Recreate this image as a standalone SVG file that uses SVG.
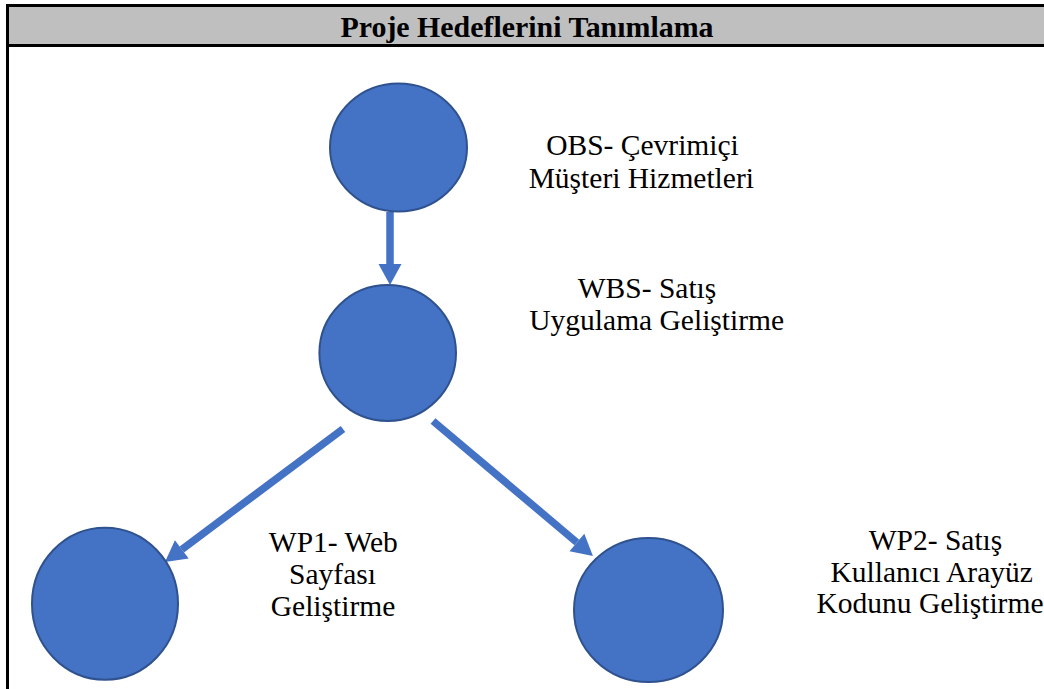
<svg xmlns="http://www.w3.org/2000/svg" width="1044" height="689" viewBox="0 0 1044 689">
  <style>
    .node { fill: #4472C4; stroke: #2F528F; stroke-width: 2; }
    .lbl { font-family: 'Liberation Serif', 'DejaVu Serif', serif; font-size: 29.5px; fill: #000; text-anchor: middle; }
    .title { font-family: 'Liberation Serif', 'DejaVu Serif', serif; font-size: 29.9px; font-weight: bold; fill: #000; text-anchor: middle; }
    .conn { stroke: #4472C4; stroke-width: 7.5; fill: none; marker-end: url(#head); }
  </style>
  <defs>
    <marker id="head" markerUnits="userSpaceOnUse" markerWidth="22" markerHeight="24" refX="0" refY="11.5" orient="auto" overflow="visible">
      <path d="M0,0 L21,11.5 L0,23 z" fill="#4472C4"/>
    </marker>
  </defs>
  <rect width="1044" height="689" fill="#ffffff"/>

  <g id="frame">
    <rect x="7.5" y="5.5" width="1100" height="40" fill="#BFBFBF" stroke="#000" stroke-width="3"/>
    <line x1="7.5" y1="4" x2="7.5" y2="689" stroke="#000" stroke-width="3"/>
    <text class="title" x="527" y="37" font-family="Liberation Serif, serif">Proje Hedeflerini Tanımlama</text>
  </g>

  <g id="connectors">
    <line class="conn" x1="390" y1="212" x2="390" y2="264"/>
    <line class="conn" x1="343" y1="429" x2="181.8" y2="549.4"/>
    <line class="conn" x1="433" y1="421" x2="576.9" y2="542.5"/>
  </g>

  <g id="obs">
    <ellipse class="node" cx="398.5" cy="147.5" rx="68.5" ry="64"/>
    <text class="lbl" x="642.5" y="155">OBS- Çevrimiçi</text>
    <text class="lbl" x="641.3" y="188.3">Müşteri Hizmetleri</text>
  </g>

  <g id="wbs">
    <ellipse class="node" cx="387.7" cy="353" rx="68.3" ry="68"/>
    <text class="lbl" x="647" y="298.3">WBS- Satış</text>
    <text class="lbl" x="656.7" y="330">Uygulama Geliştirme</text>
  </g>

  <g id="wp1">
    <ellipse class="node" cx="105" cy="603.7" rx="73" ry="76"/>
    <text class="lbl" x="333.3" y="552">WP1- Web</text>
    <text class="lbl" x="332.5" y="584">Sayfası</text>
    <text class="lbl" x="333" y="616">Geliştirme</text>
  </g>

  <g id="wp2">
    <ellipse class="node" cx="648.5" cy="610" rx="74.5" ry="72"/>
    <text class="lbl" x="935.5" y="550">WP2- Satış</text>
    <text class="lbl" x="931.7" y="581.7">Kullanıcı Arayüz</text>
    <text class="lbl" x="930" y="613.3">Kodunu Geliştirme</text>
  </g>
</svg>
